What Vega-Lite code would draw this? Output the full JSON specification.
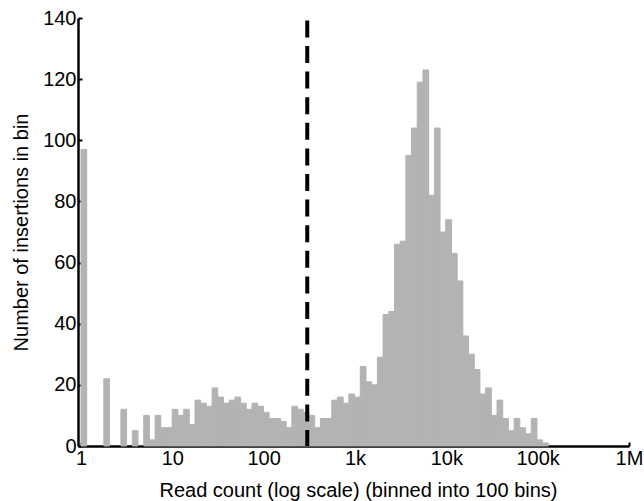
{
  "$schema": "https://vega.github.io/schema/vega-lite/v6.json",
  "width": 551,
  "height": 428,
  "autosize": "none",
  "padding": {"left": 78, "top": 18, "right": 15, "bottom": 55},
  "config": {
    "view": {"stroke": null},
    "font": "Liberation Sans",
    "axis": {"grid": false}
  },
  "layer": [
    {
      "data": {"values": [
        {"lo": 0, "hi": 0.0624, "n": 97},
        {"lo": 0.2496, "hi": 0.312, "n": 22},
        {"lo": 0.4368, "hi": 0.4992, "n": 12},
        {"lo": 0.5616, "hi": 0.624, "n": 5},
        {"lo": 0.6864, "hi": 0.7488, "n": 10},
        {"lo": 0.7488, "hi": 0.8112, "n": 2},
        {"lo": 0.8112, "hi": 0.8736, "n": 10},
        {"lo": 0.8736, "hi": 0.936, "n": 6},
        {"lo": 0.936, "hi": 0.9984, "n": 6},
        {"lo": 0.9984, "hi": 1.0608, "n": 12},
        {"lo": 1.0608, "hi": 1.1232, "n": 10},
        {"lo": 1.1232, "hi": 1.1856, "n": 12},
        {"lo": 1.1856, "hi": 1.248, "n": 7},
        {"lo": 1.248, "hi": 1.3104, "n": 15},
        {"lo": 1.3104, "hi": 1.3728, "n": 14},
        {"lo": 1.3728, "hi": 1.4352, "n": 13},
        {"lo": 1.4352, "hi": 1.4976, "n": 19},
        {"lo": 1.4976, "hi": 1.56, "n": 16},
        {"lo": 1.56, "hi": 1.6224, "n": 14},
        {"lo": 1.6224, "hi": 1.6848, "n": 15},
        {"lo": 1.6848, "hi": 1.7472, "n": 16},
        {"lo": 1.7472, "hi": 1.8096, "n": 14},
        {"lo": 1.8096, "hi": 1.872, "n": 12},
        {"lo": 1.872, "hi": 1.9344, "n": 14},
        {"lo": 1.9344, "hi": 1.9968, "n": 13},
        {"lo": 1.9968, "hi": 2.0592, "n": 11},
        {"lo": 2.0592, "hi": 2.1216, "n": 9},
        {"lo": 2.1216, "hi": 2.184, "n": 9},
        {"lo": 2.184, "hi": 2.2464, "n": 8},
        {"lo": 2.2464, "hi": 2.3088, "n": 6},
        {"lo": 2.3088, "hi": 2.3712, "n": 13},
        {"lo": 2.3712, "hi": 2.4336, "n": 12},
        {"lo": 2.4336, "hi": 2.496, "n": 11},
        {"lo": 2.496, "hi": 2.5584, "n": 10},
        {"lo": 2.5584, "hi": 2.6208, "n": 6},
        {"lo": 2.6208, "hi": 2.6832, "n": 9},
        {"lo": 2.6832, "hi": 2.7456, "n": 9},
        {"lo": 2.7456, "hi": 2.808, "n": 15},
        {"lo": 2.808, "hi": 2.8704, "n": 16},
        {"lo": 2.8704, "hi": 2.9328, "n": 14},
        {"lo": 2.9328, "hi": 2.9952, "n": 17},
        {"lo": 2.9952, "hi": 3.0576, "n": 16},
        {"lo": 3.0576, "hi": 3.12, "n": 26},
        {"lo": 3.12, "hi": 3.1824, "n": 21},
        {"lo": 3.1824, "hi": 3.2448, "n": 20},
        {"lo": 3.2448, "hi": 3.3072, "n": 29},
        {"lo": 3.3072, "hi": 3.3696, "n": 43},
        {"lo": 3.3696, "hi": 3.432, "n": 44},
        {"lo": 3.432, "hi": 3.4944, "n": 66},
        {"lo": 3.4944, "hi": 3.5568, "n": 67},
        {"lo": 3.5568, "hi": 3.6192, "n": 95},
        {"lo": 3.6192, "hi": 3.6816, "n": 104},
        {"lo": 3.6816, "hi": 3.744, "n": 119},
        {"lo": 3.744, "hi": 3.8064, "n": 123},
        {"lo": 3.8064, "hi": 3.8688, "n": 82},
        {"lo": 3.8688, "hi": 3.9312, "n": 104},
        {"lo": 3.9312, "hi": 3.9936, "n": 70},
        {"lo": 3.9936, "hi": 4.056, "n": 74},
        {"lo": 4.056, "hi": 4.1184, "n": 63},
        {"lo": 4.1184, "hi": 4.1808, "n": 54},
        {"lo": 4.1808, "hi": 4.2432, "n": 36},
        {"lo": 4.2432, "hi": 4.3056, "n": 30},
        {"lo": 4.3056, "hi": 4.368, "n": 25},
        {"lo": 4.368, "hi": 4.4304, "n": 17},
        {"lo": 4.4304, "hi": 4.4928, "n": 19},
        {"lo": 4.4928, "hi": 4.5552, "n": 10},
        {"lo": 4.5552, "hi": 4.6176, "n": 15},
        {"lo": 4.6176, "hi": 4.68, "n": 9},
        {"lo": 4.68, "hi": 4.7424, "n": 5},
        {"lo": 4.7424, "hi": 4.8048, "n": 9},
        {"lo": 4.8048, "hi": 4.8672, "n": 6},
        {"lo": 4.8672, "hi": 4.9296, "n": 4},
        {"lo": 4.9296, "hi": 4.992, "n": 9},
        {"lo": 4.992, "hi": 5.0544, "n": 2},
        {"lo": 5.0544, "hi": 5.1168, "n": 1}
      ]},
      "mark": {"type": "bar", "color": "#b3b3b3", "stroke": "#b3b3b3", "strokeWidth": 1},
      "encoding": {
        "x": {
          "field": "lo",
          "type": "quantitative",
          "scale": {"domain": [-0.033, 6], "nice": false, "zero": false},
          "axis": {
            "values": [0, 1, 2, 3, 4, 5, 6],
            "labelExpr": "['1','10','100','1k','10k','100k','1M'][datum.value]",
            "title": "Read count (log scale) (binned into 100 bins)",
            "titleFontSize": 20,
            "titleFontWeight": "normal",
            "titleColor": "black",
            "titleX": 280,
            "titleY": 50,
            "titleBaseline": "alphabetic",
            "titleAlign": "center",
            "labelFontSize": 20,
            "labelColor": "black",
            "labelPadding": 6,
            "labelFlush": false,
            "labelOverlap": false,
            "domainColor": "black",
            "domainWidth": 2.5,
            "tickColor": "black",
            "tickWidth": 2,
            "tickSize": -4
          }
        },
        "x2": {"field": "hi"},
        "y": {
          "field": "n",
          "type": "quantitative",
          "scale": {"domain": [0, 140], "nice": false},
          "axis": {
            "values": [0, 20, 40, 60, 80, 100, 120, 140],
            "title": "Number of insertions in bin",
            "titleFontSize": 20,
            "titleFontWeight": "normal",
            "titleColor": "black",
            "titleX": -51,
            "titleY": 214,
            "titleAngle": -90,
            "titleBaseline": "alphabetic",
            "titleAlign": "center",
            "labelFontSize": 20,
            "labelColor": "black",
            "labelPadding": 6,
            "labelFlush": false,
            "labelOverlap": false,
            "domainColor": "black",
            "domainWidth": 2.5,
            "tickColor": "black",
            "tickWidth": 2,
            "tickSize": -4
          }
        },
        "y2": {"datum": 0}
      }
    },
    {
      "data": {"values": [{"t": 2.4771}]},
      "mark": {"type": "rule", "color": "black", "strokeWidth": 4, "strokeDash": [17, 8.6], "strokeDashOffset": 23.2},
      "encoding": {
        "x": {"field": "t", "type": "quantitative"}
      }
    }
  ]
}
